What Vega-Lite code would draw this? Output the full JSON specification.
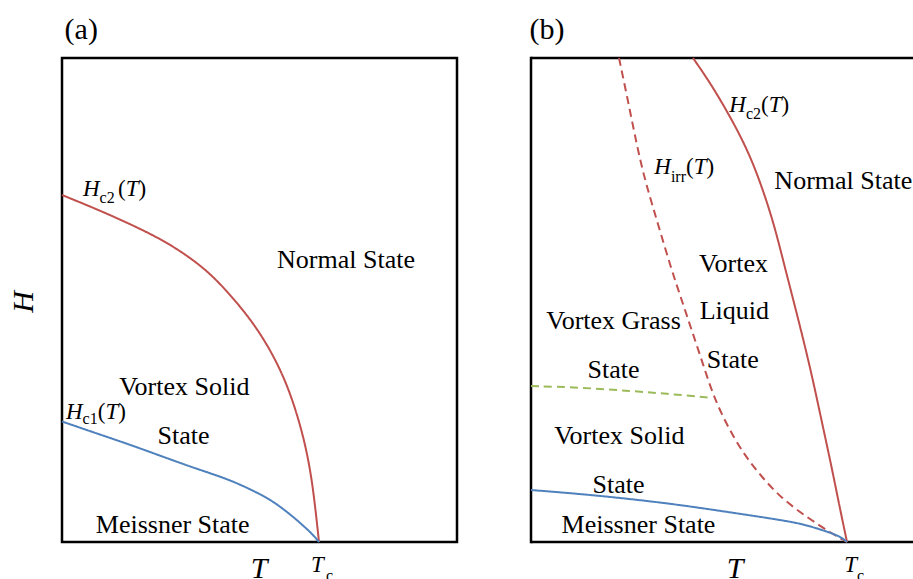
{
  "$schema": "https://vega.github.io/schema/vega-lite/v6.json",
  "padding": {"left": 7, "top": 13, "right": 0, "bottom": 0},
  "autosize": {"type": "pad"},
  "bounds": "flush",
  "spacing": 74,
  "config": {
    "view": {"stroke": "black", "strokeWidth": 2.5},
    "font": "'Liberation Serif', 'Times New Roman', 'DejaVu Serif', serif",
    "text": {"font": "'Liberation Serif', 'Times New Roman', 'DejaVu Serif', serif", "color": "black"}
  },
  "datasets": {
    "curves": [
      {"panel": "a", "curve": "Hc2", "t": 0, "h": 0.7169},
      {"panel": "a", "curve": "Hc2", "t": 0.1245, "h": 0.6901},
      {"panel": "a", "curve": "Hc2", "t": 0.2568, "h": 0.6591},
      {"panel": "a", "curve": "Hc2", "t": 0.3852, "h": 0.6260},
      {"panel": "a", "curve": "Hc2", "t": 0.4903, "h": 0.5909},
      {"panel": "a", "curve": "Hc2", "t": 0.5798, "h": 0.5537},
      {"panel": "a", "curve": "Hc2", "t": 0.6693, "h": 0.5021},
      {"panel": "a", "curve": "Hc2", "t": 0.7471, "h": 0.4504},
      {"panel": "a", "curve": "Hc2", "t": 0.8132, "h": 0.3946},
      {"panel": "a", "curve": "Hc2", "t": 0.8700, "h": 0.3330},
      {"panel": "a", "curve": "Hc2", "t": 0.9150, "h": 0.2645},
      {"panel": "a", "curve": "Hc2", "t": 0.9500, "h": 0.1942},
      {"panel": "a", "curve": "Hc2", "t": 0.9730, "h": 0.1260},
      {"panel": "a", "curve": "Hc2", "t": 0.9883, "h": 0.0579},
      {"panel": "a", "curve": "Hc2", "t": 1, "h": 0},
      {"panel": "a", "curve": "Hc1", "t": 0, "h": 0.2490},
      {"panel": "a", "curve": "Hc1", "t": 0.1245, "h": 0.2262},
      {"panel": "a", "curve": "Hc1", "t": 0.2568, "h": 0.2025},
      {"panel": "a", "curve": "Hc1", "t": 0.3852, "h": 0.1777},
      {"panel": "a", "curve": "Hc1", "t": 0.5136, "h": 0.1529},
      {"panel": "a", "curve": "Hc1", "t": 0.6459, "h": 0.1302},
      {"panel": "a", "curve": "Hc1", "t": 0.7471, "h": 0.1054},
      {"panel": "a", "curve": "Hc1", "t": 0.8132, "h": 0.0868},
      {"panel": "a", "curve": "Hc1", "t": 0.8716, "h": 0.0640},
      {"panel": "a", "curve": "Hc1", "t": 0.9183, "h": 0.0434},
      {"panel": "a", "curve": "Hc1", "t": 0.9572, "h": 0.0248},
      {"panel": "a", "curve": "Hc1", "t": 0.9805, "h": 0.0124},
      {"panel": "a", "curve": "Hc1", "t": 1, "h": 0},
      {"panel": "b", "curve": "Hc2", "t": 0.5127, "h": 1},
      {"panel": "b", "curve": "Hc2", "t": 0.5696, "h": 0.9463},
      {"panel": "b", "curve": "Hc2", "t": 0.6329, "h": 0.8760},
      {"panel": "b", "curve": "Hc2", "t": 0.6867, "h": 0.8079},
      {"panel": "b", "curve": "Hc2", "t": 0.7278, "h": 0.7397},
      {"panel": "b", "curve": "Hc2", "t": 0.7690, "h": 0.6570},
      {"panel": "b", "curve": "Hc2", "t": 0.8006, "h": 0.5744},
      {"panel": "b", "curve": "Hc2", "t": 0.8449, "h": 0.4628},
      {"panel": "b", "curve": "Hc2", "t": 0.8861, "h": 0.3533},
      {"panel": "b", "curve": "Hc2", "t": 0.9177, "h": 0.2562},
      {"panel": "b", "curve": "Hc2", "t": 0.9494, "h": 0.1612},
      {"panel": "b", "curve": "Hc2", "t": 0.9747, "h": 0.0785},
      {"panel": "b", "curve": "Hc2", "t": 1, "h": 0},
      {"panel": "b", "curve": "Hirr", "t": 0.2785, "h": 1},
      {"panel": "b", "curve": "Hirr", "t": 0.3070, "h": 0.9112},
      {"panel": "b", "curve": "Hirr", "t": 0.3386, "h": 0.8079},
      {"panel": "b", "curve": "Hirr", "t": 0.3639, "h": 0.7397},
      {"panel": "b", "curve": "Hirr", "t": 0.4019, "h": 0.6570},
      {"panel": "b", "curve": "Hirr", "t": 0.4430, "h": 0.5661},
      {"panel": "b", "curve": "Hirr", "t": 0.4747, "h": 0.5041},
      {"panel": "b", "curve": "Hirr", "t": 0.5063, "h": 0.4421},
      {"panel": "b", "curve": "Hirr", "t": 0.5380, "h": 0.3802},
      {"panel": "b", "curve": "Hirr", "t": 0.5696, "h": 0.3161},
      {"panel": "b", "curve": "Hirr", "t": 0.6013, "h": 0.2665},
      {"panel": "b", "curve": "Hirr", "t": 0.6392, "h": 0.2190},
      {"panel": "b", "curve": "Hirr", "t": 0.6804, "h": 0.1756},
      {"panel": "b", "curve": "Hirr", "t": 0.7278, "h": 0.1364},
      {"panel": "b", "curve": "Hirr", "t": 0.7911, "h": 0.0909},
      {"panel": "b", "curve": "Hirr", "t": 0.8766, "h": 0.0496},
      {"panel": "b", "curve": "Hirr", "t": 0.9494, "h": 0.0186},
      {"panel": "b", "curve": "Hirr", "t": 1, "h": 0},
      {"panel": "b", "curve": "Hg", "t": 0, "h": 0.3223},
      {"panel": "b", "curve": "Hg", "t": 0.1582, "h": 0.3192},
      {"panel": "b", "curve": "Hg", "t": 0.3165, "h": 0.3120},
      {"panel": "b", "curve": "Hg", "t": 0.4430, "h": 0.3058},
      {"panel": "b", "curve": "Hg", "t": 0.5728, "h": 0.2975},
      {"panel": "b", "curve": "Hc1", "t": 0, "h": 0.1074},
      {"panel": "b", "curve": "Hc1", "t": 0.1582, "h": 0.0992},
      {"panel": "b", "curve": "Hc1", "t": 0.3165, "h": 0.0888},
      {"panel": "b", "curve": "Hc1", "t": 0.4747, "h": 0.0764},
      {"panel": "b", "curve": "Hc1", "t": 0.6329, "h": 0.0610},
      {"panel": "b", "curve": "Hc1", "t": 0.7595, "h": 0.0486},
      {"panel": "b", "curve": "Hc1", "t": 0.8449, "h": 0.0393},
      {"panel": "b", "curve": "Hc1", "t": 0.9019, "h": 0.0289},
      {"panel": "b", "curve": "Hc1", "t": 0.9494, "h": 0.0186},
      {"panel": "b", "curve": "Hc1", "t": 0.9810, "h": 0.0103},
      {"panel": "b", "curve": "Hc1", "t": 1, "h": 0}
    ],
    "labels": [
      {"panel": "a", "kind": "region", "text": "Normal State", "t": 1.1051, "h": 0.5655},
      {"panel": "a", "kind": "region", "text": "Vortex Solid", "t": 0.4759, "h": 0.3031},
      {"panel": "a", "kind": "region", "text": "State", "t": 0.4728, "h": 0.2035},
      {"panel": "a", "kind": "region", "text": "Meissner State", "t": 0.4307, "h": 0.0186},
      {"panel": "a", "kind": "it", "text": "H", "t": 0.0817, "h": 0.7149},
      {"panel": "a", "kind": "sub", "text": "c2", "t": 0.1463, "h": 0.7004},
      {"panel": "a", "kind": "par", "text": "(", "t": 0.2179, "h": 0.7149},
      {"panel": "a", "kind": "it", "text": "T", "t": 0.2479, "h": 0.7149},
      {"panel": "a", "kind": "par", "text": ")", "t": 0.2977, "h": 0.7149},
      {"panel": "a", "kind": "it", "text": "H", "t": 0.0156, "h": 0.2541},
      {"panel": "a", "kind": "sub", "text": "c1", "t": 0.0802, "h": 0.2438},
      {"panel": "a", "kind": "par", "text": "(", "t": 0.1389, "h": 0.2541},
      {"panel": "a", "kind": "it", "text": "T", "t": 0.1689, "h": 0.2541},
      {"panel": "a", "kind": "par", "text": ")", "t": 0.2187, "h": 0.2541},
      {"panel": "a", "kind": "axis", "text": "T", "t": 0.7665, "h": -0.0744},
      {"panel": "a", "kind": "vaxis", "text": "H", "t": -0.1479, "h": 0.4959},
      {"panel": "a", "kind": "it", "text": "T", "t": 0.9689, "h": -0.0630},
      {"panel": "a", "kind": "sub", "text": "c", "t": 1.0272, "h": -0.0806},
      {"panel": "a", "kind": "tag", "text": "(a)", "t": 0.0101, "h": 1.0393},
      {"panel": "b", "kind": "region", "text": "Normal State", "t": 0.9883, "h": 0.7287},
      {"panel": "b", "kind": "region", "text": "Vortex", "t": 0.6408, "h": 0.5585},
      {"panel": "b", "kind": "region", "text": "Liquid", "t": 0.6434, "h": 0.4601},
      {"panel": "b", "kind": "region", "text": "State", "t": 0.6383, "h": 0.3601},
      {"panel": "b", "kind": "region", "text": "Vortex Grass", "t": 0.2611, "h": 0.4395},
      {"panel": "b", "kind": "region", "text": "State", "t": 0.2611, "h": 0.3395},
      {"panel": "b", "kind": "region", "text": "Vortex Solid", "t": 0.2794, "h": 0.2019},
      {"panel": "b", "kind": "region", "text": "State", "t": 0.2769, "h": 0.1019},
      {"panel": "b", "kind": "region", "text": "Meissner State", "t": 0.3402, "h": 0.0192},
      {"panel": "b", "kind": "it", "text": "H", "t": 0.6275, "h": 0.8884},
      {"panel": "b", "kind": "sub", "text": "c2", "t": 0.6801, "h": 0.8734},
      {"panel": "b", "kind": "par", "text": "(", "t": 0.7278, "h": 0.8884},
      {"panel": "b", "kind": "it", "text": "T", "t": 0.7522, "h": 0.8884},
      {"panel": "b", "kind": "par", "text": ")", "t": 0.7927, "h": 0.8884},
      {"panel": "b", "kind": "it", "text": "H", "t": 0.3902, "h": 0.7597},
      {"panel": "b", "kind": "sub", "text": "irr", "t": 0.4427, "h": 0.7438},
      {"panel": "b", "kind": "par", "text": "(", "t": 0.4905, "h": 0.7597},
      {"panel": "b", "kind": "it", "text": "T", "t": 0.5149, "h": 0.7597},
      {"panel": "b", "kind": "par", "text": ")", "t": 0.5554, "h": 0.7597},
      {"panel": "b", "kind": "axis", "text": "T", "t": 0.6456, "h": -0.0737},
      {"panel": "b", "kind": "it", "text": "T", "t": 0.9915, "h": -0.0614},
      {"panel": "b", "kind": "sub", "text": "c", "t": 1.0316, "h": -0.0806},
      {"panel": "b", "kind": "tag", "text": "(b)", "t": -0.0044, "h": 1.0393}
    ]
  },
  "hconcat": [
    {
      "width": 395,
      "height": 484,
      "layer": [
        {
          "data": {"name": "curves"},
          "transform": [{"filter": "datum.panel === 'a'"}],
          "mark": {"type": "line", "strokeWidth": 2, "interpolate": "basis"},
          "encoding": {
            "x": {"field": "t", "type": "quantitative", "scale": {"domain": [0, 1.537], "nice": false, "zero": false}, "axis": null},
            "y": {"field": "h", "type": "quantitative", "scale": {"domain": [0, 1], "nice": false, "zero": false}, "axis": null},
            "detail": {"field": "curve"},
            "color": {"field": "curve", "type": "nominal", "scale": {"domain": ["Hc1", "Hc2", "Hirr", "Hg"], "range": ["#4F81BD", "#C0504D", "#C0504D", "#9BBB59"]}, "legend": null},
            "strokeDash": {"field": "curve", "type": "nominal", "scale": {"domain": ["Hc1", "Hc2", "Hirr", "Hg"], "range": [[1, 0], [1, 0], [8, 5], [8, 5]]}, "legend": null}
          }
        },
        {
          "data": {"name": "labels"},
          "transform": [{"filter": "datum.panel === 'a' && datum.kind === 'region'"}],
          "mark": {"type": "text", "fontSize": 26, "align": "center", "baseline": "alphabetic"},
          "encoding": {
            "x": {"field": "t", "type": "quantitative", "scale": {"domain": [0, 1.537], "nice": false, "zero": false}, "axis": null},
            "y": {"field": "h", "type": "quantitative", "scale": {"domain": [0, 1], "nice": false, "zero": false}, "axis": null},
            "text": {"field": "text"}
          }
        },
        {
          "data": {"name": "labels"},
          "transform": [{"filter": "datum.panel === 'a' && datum.kind === 'it'"}],
          "mark": {"type": "text", "fontSize": 23, "fontStyle": "italic", "align": "left", "baseline": "alphabetic"},
          "encoding": {
            "x": {"field": "t", "type": "quantitative", "scale": {"domain": [0, 1.537], "nice": false, "zero": false}, "axis": null},
            "y": {"field": "h", "type": "quantitative", "scale": {"domain": [0, 1], "nice": false, "zero": false}, "axis": null},
            "text": {"field": "text"}
          }
        },
        {
          "data": {"name": "labels"},
          "transform": [{"filter": "datum.panel === 'a' && datum.kind === 'sub'"}],
          "mark": {"type": "text", "fontSize": 16, "align": "left", "baseline": "alphabetic"},
          "encoding": {
            "x": {"field": "t", "type": "quantitative", "scale": {"domain": [0, 1.537], "nice": false, "zero": false}, "axis": null},
            "y": {"field": "h", "type": "quantitative", "scale": {"domain": [0, 1], "nice": false, "zero": false}, "axis": null},
            "text": {"field": "text"}
          }
        },
        {
          "data": {"name": "labels"},
          "transform": [{"filter": "datum.panel === 'a' && datum.kind === 'par'"}],
          "mark": {"type": "text", "fontSize": 23, "align": "left", "baseline": "alphabetic"},
          "encoding": {
            "x": {"field": "t", "type": "quantitative", "scale": {"domain": [0, 1.537], "nice": false, "zero": false}, "axis": null},
            "y": {"field": "h", "type": "quantitative", "scale": {"domain": [0, 1], "nice": false, "zero": false}, "axis": null},
            "text": {"field": "text"}
          }
        },
        {
          "data": {"name": "labels"},
          "transform": [{"filter": "datum.panel === 'a' && datum.kind === 'axis'"}],
          "mark": {"type": "text", "fontSize": 30, "fontStyle": "italic", "align": "center", "baseline": "alphabetic"},
          "encoding": {
            "x": {"field": "t", "type": "quantitative", "scale": {"domain": [0, 1.537], "nice": false, "zero": false}, "axis": null},
            "y": {"field": "h", "type": "quantitative", "scale": {"domain": [0, 1], "nice": false, "zero": false}, "axis": null},
            "text": {"field": "text"}
          }
        },
        {
          "data": {"name": "labels"},
          "transform": [{"filter": "datum.panel === 'a' && datum.kind === 'vaxis'"}],
          "mark": {"type": "text", "fontSize": 30, "fontStyle": "italic", "align": "center", "baseline": "middle", "angle": 270},
          "encoding": {
            "x": {"field": "t", "type": "quantitative", "scale": {"domain": [0, 1.537], "nice": false, "zero": false}, "axis": null},
            "y": {"field": "h", "type": "quantitative", "scale": {"domain": [0, 1], "nice": false, "zero": false}, "axis": null},
            "text": {"field": "text"}
          }
        },
        {
          "data": {"name": "labels"},
          "transform": [{"filter": "datum.panel === 'a' && datum.kind === 'tag'"}],
          "mark": {"type": "text", "fontSize": 30, "align": "left", "baseline": "alphabetic"},
          "encoding": {
            "x": {"field": "t", "type": "quantitative", "scale": {"domain": [0, 1.537], "nice": false, "zero": false}, "axis": null},
            "y": {"field": "h", "type": "quantitative", "scale": {"domain": [0, 1], "nice": false, "zero": false}, "axis": null},
            "text": {"field": "text"}
          }
        }
      ]
    },
    {
      "width": 383,
      "height": 484,
      "view": {"stroke": null},
      "layer": [
        {
          "data": {"values": [{}]},
          "mark": {"type": "rule", "color": "black", "strokeWidth": 2.5, "strokeCap": "square"},
          "encoding": {
            "x": {"datum": 0, "type": "quantitative", "scale": {"domain": [0, 1.212], "nice": false, "zero": false}, "axis": null}
          }
        },
        {
          "data": {"values": [{}]},
          "mark": {"type": "rule", "color": "black", "strokeWidth": 2.5},
          "encoding": {
            "y": {"datum": 1, "type": "quantitative", "scale": {"domain": [0, 1], "nice": false, "zero": false}, "axis": null}
          }
        },
        {
          "data": {"values": [{}]},
          "mark": {"type": "rule", "color": "black", "strokeWidth": 2.5},
          "encoding": {
            "y": {"datum": 0, "type": "quantitative", "scale": {"domain": [0, 1], "nice": false, "zero": false}, "axis": null}
          }
        },
        {
          "data": {"name": "curves"},
          "transform": [{"filter": "datum.panel === 'b'"}],
          "mark": {"type": "line", "strokeWidth": 2, "interpolate": "basis"},
          "encoding": {
            "x": {"field": "t", "type": "quantitative", "scale": {"domain": [0, 1.212], "nice": false, "zero": false}, "axis": null},
            "y": {"field": "h", "type": "quantitative", "scale": {"domain": [0, 1], "nice": false, "zero": false}, "axis": null},
            "detail": {"field": "curve"},
            "color": {"field": "curve", "type": "nominal", "scale": {"domain": ["Hc1", "Hc2", "Hirr", "Hg"], "range": ["#4F81BD", "#C0504D", "#C0504D", "#9BBB59"]}, "legend": null},
            "strokeDash": {"field": "curve", "type": "nominal", "scale": {"domain": ["Hc1", "Hc2", "Hirr", "Hg"], "range": [[1, 0], [1, 0], [8, 5], [8, 5]]}, "legend": null}
          }
        },
        {
          "data": {"name": "labels"},
          "transform": [{"filter": "datum.panel === 'b' && datum.kind === 'region'"}],
          "mark": {"type": "text", "fontSize": 26, "align": "center", "baseline": "alphabetic"},
          "encoding": {
            "x": {"field": "t", "type": "quantitative", "scale": {"domain": [0, 1.212], "nice": false, "zero": false}, "axis": null},
            "y": {"field": "h", "type": "quantitative", "scale": {"domain": [0, 1], "nice": false, "zero": false}, "axis": null},
            "text": {"field": "text"}
          }
        },
        {
          "data": {"name": "labels"},
          "transform": [{"filter": "datum.panel === 'b' && datum.kind === 'it'"}],
          "mark": {"type": "text", "fontSize": 23, "fontStyle": "italic", "align": "left", "baseline": "alphabetic"},
          "encoding": {
            "x": {"field": "t", "type": "quantitative", "scale": {"domain": [0, 1.212], "nice": false, "zero": false}, "axis": null},
            "y": {"field": "h", "type": "quantitative", "scale": {"domain": [0, 1], "nice": false, "zero": false}, "axis": null},
            "text": {"field": "text"}
          }
        },
        {
          "data": {"name": "labels"},
          "transform": [{"filter": "datum.panel === 'b' && datum.kind === 'sub'"}],
          "mark": {"type": "text", "fontSize": 16, "align": "left", "baseline": "alphabetic"},
          "encoding": {
            "x": {"field": "t", "type": "quantitative", "scale": {"domain": [0, 1.212], "nice": false, "zero": false}, "axis": null},
            "y": {"field": "h", "type": "quantitative", "scale": {"domain": [0, 1], "nice": false, "zero": false}, "axis": null},
            "text": {"field": "text"}
          }
        },
        {
          "data": {"name": "labels"},
          "transform": [{"filter": "datum.panel === 'b' && datum.kind === 'par'"}],
          "mark": {"type": "text", "fontSize": 23, "align": "left", "baseline": "alphabetic"},
          "encoding": {
            "x": {"field": "t", "type": "quantitative", "scale": {"domain": [0, 1.212], "nice": false, "zero": false}, "axis": null},
            "y": {"field": "h", "type": "quantitative", "scale": {"domain": [0, 1], "nice": false, "zero": false}, "axis": null},
            "text": {"field": "text"}
          }
        },
        {
          "data": {"name": "labels"},
          "transform": [{"filter": "datum.panel === 'b' && datum.kind === 'axis'"}],
          "mark": {"type": "text", "fontSize": 30, "fontStyle": "italic", "align": "center", "baseline": "alphabetic"},
          "encoding": {
            "x": {"field": "t", "type": "quantitative", "scale": {"domain": [0, 1.212], "nice": false, "zero": false}, "axis": null},
            "y": {"field": "h", "type": "quantitative", "scale": {"domain": [0, 1], "nice": false, "zero": false}, "axis": null},
            "text": {"field": "text"}
          }
        },
        {
          "data": {"name": "labels"},
          "transform": [{"filter": "datum.panel === 'b' && datum.kind === 'tag'"}],
          "mark": {"type": "text", "fontSize": 30, "align": "left", "baseline": "alphabetic"},
          "encoding": {
            "x": {"field": "t", "type": "quantitative", "scale": {"domain": [0, 1.212], "nice": false, "zero": false}, "axis": null},
            "y": {"field": "h", "type": "quantitative", "scale": {"domain": [0, 1], "nice": false, "zero": false}, "axis": null},
            "text": {"field": "text"}
          }
        }
      ]
    }
  ]
}
